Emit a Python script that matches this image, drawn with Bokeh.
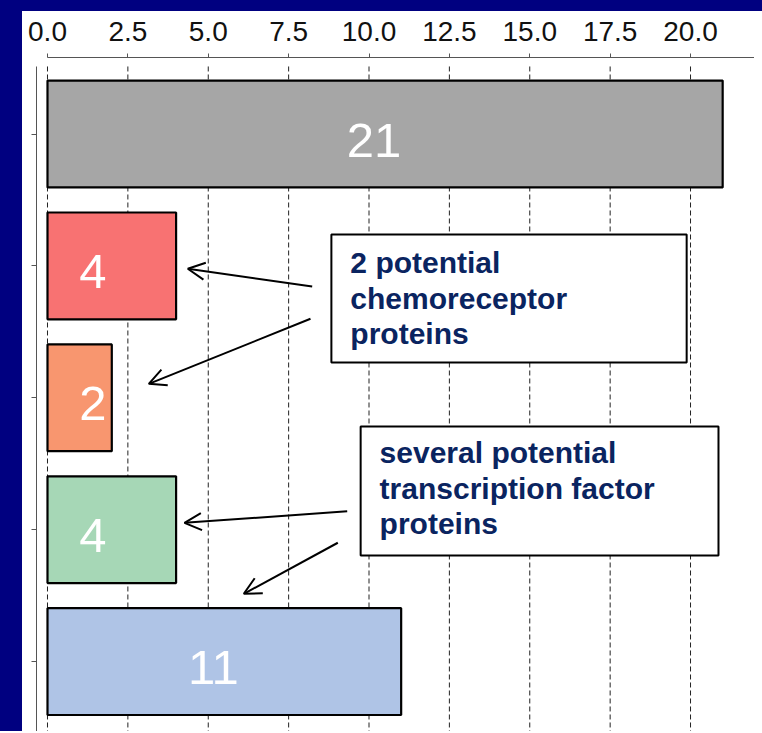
from bokeh.plotting import figure
from bokeh.models import (Range1d, FixedTicker, NumeralTickFormatter, LinearAxis,
                          Arrow, OpenHead, Div)
from bokeh.layouts import row, column
from bokeh.embed import file_html
from bokeh.resources import INLINE
from bokeh.core.properties import value

# ---- data ----
values = [21, 4, 2, 4, 11]
colors = ["#A6A6A6", "#F87272", "#F8966F", "#A6D7B6", "#AFC4E6"]
x_ticks = [0.0, 2.5, 5.0, 7.5, 10.0, 12.5, 15.0, 17.5, 20.0]
note1_lines = ["2 potential", "chemoreceptor", "proteins"]
note2_lines = ["several potential", "transcription factor", "proteins"]

NAVY = "#000080"
TEXT_NAVY = "#0A2460"
FONT = "Liberation Sans"

n = len(values)
ypos = [n - i for i in range(n)]

fig = figure(width=732, height=720,
             x_range=Range1d(-0.342, 21.99), y_range=Range1d(0.470, 5.58),
             output_backend="svg", toolbar_location=None,
             x_axis_location=None, y_axis_location=None,
             min_border_left=14, min_border_top=46,
             min_border_right=0, min_border_bottom=0,
             background_fill_color="white", border_fill_color="white",
             outline_line_color=None)
fig.grid.grid_line_color = None

# top axis
xaxis = LinearAxis(ticker=FixedTicker(ticks=x_ticks),
                   formatter=NumeralTickFormatter(format="0.0"),
                   bounds=(0, 21.99))
xaxis.axis_line_color = "#555555"
xaxis.major_tick_line_color = "#555555"
xaxis.major_tick_out = 4
xaxis.major_tick_in = 0
xaxis.minor_tick_out = 0
xaxis.minor_tick_in = 0
xaxis.major_label_standoff = 13
xaxis.major_label_text_font = FONT
xaxis.major_label_text_font_size = "28px"
xaxis.major_label_text_color = "#111111"
fig.add_layout(xaxis, "above")

# left axis (no labels)
yaxis = LinearAxis(ticker=FixedTicker(ticks=ypos), bounds=(0.3, 5.512),
                   major_label_overrides={t: "" for t in ypos})
yaxis.axis_line_color = "#555555"
yaxis.major_tick_line_color = "#555555"
yaxis.major_tick_out = 5
yaxis.major_tick_in = 0
yaxis.minor_tick_out = 0
yaxis.minor_tick_in = 0
yaxis.major_label_standoff = 0
fig.add_layout(yaxis, "left")

# dashed vertical grid lines
fig.segment(x0=x_ticks, x1=x_ticks, y0=[5.512] * len(x_ticks), y1=[0.3] * len(x_ticks),
            line_color="#222222", line_dash="5 3", line_width=1)

# bars
fig.hbar(y=ypos, left=0, right=values, height=0.81,
         fill_color=colors, line_color="black", line_width=2.2)

# bar labels (wide bars: centred; narrow bars: fixed inset)
label_x = [v / 2 if v >= 10 else 1.75 for v in values]
fig.text(x=label_x, y=ypos, text=[str(v) for v in values],
         text_align="center", text_baseline="alphabetic",
         x_offset=-11, y_offset=6, text_color="white",
         text_font=value(FONT), text_font_size="49px")

# annotation boxes
fig.quad(left=[8.83, 9.74], right=[19.88, 20.87], top=[4.238, 2.782], bottom=[3.267, 1.804],
         fill_color="white", line_color="black", line_width=2)

for lines, tx, ty in [(note1_lines, 9.42, 3.94), (note2_lines, 10.33, 2.50)]:
    fig.text(x=[tx] * len(lines), y=[ty] * len(lines), text=lines,
             y_offset=[35.5 * i - 11 for i in range(len(lines))],
             text_align="left", text_baseline="alphabetic",
             text_color=TEXT_NAVY, text_font=value(FONT),
             text_font_size="30px", text_font_style="bold")

# arrows
arrows = [((8.233, 3.844), (4.364, 3.978)),
          ((8.18, 3.599), (3.151, 3.106)),
          ((9.322, 2.140), (4.261, 2.052)),
          ((9.03, 1.901), (6.106, 1.514))]
for (xs, ys), (xe, ye) in arrows:
    fig.add_layout(Arrow(end=OpenHead(size=17, line_width=2, line_color="black"),
                         x_start=xs, y_start=ys, x_end=xe, y_end=ye,
                         line_width=2, line_color="black"))

left_bar = Div(width=22, height=731, margin=0, styles={"background-color": NAVY})
top_bar = Div(width=740, height=11, margin=0, styles={"background-color": NAVY})
p = row(left_bar, column(top_bar, fig))

open("out.html", "w").write(file_html(p, INLINE))
